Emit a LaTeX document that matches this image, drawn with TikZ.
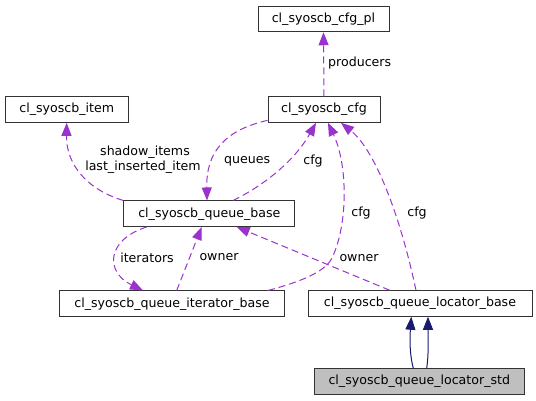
\documentclass[tikz,border=0pt]{standalone}
\usepackage{fontspec}
\setmainfont{DejaVu Sans}
\usetikzlibrary{arrows.meta,calc}
\definecolor{edgepurple}{HTML}{9A32CD}
\definecolor{inhnavy}{HTML}{191970}
\definecolor{boxgray}{HTML}{BFBFBF}
\definecolor{boxborder}{HTML}{333333}
\begin{document}
\begin{tikzpicture}[x=1pt,y=-1pt,
  cls/.style={draw=boxborder, line width=1pt, minimum height=25.5pt, inner sep=0pt, font=\fontsize{12.6}{15}\selectfont, anchor=center},
  lbl/.style={font=\fontsize{12.6}{15}\selectfont, inner sep=0pt, anchor=center},
  usage/.style={draw=edgepurple, line width=1pt, dash pattern=on 7pt off 4pt, -{Triangle[length=13pt,width=10pt]}},
  inh/.style={draw=inhnavy, line width=1pt, -{Triangle[length=13pt,width=10pt]}}]
\useasboundingbox (0,0) rectangle (536,400);
% nodes
\node[cls, minimum width=131pt] (cfgpl) at (323.5,19) {cl\_syoscb\_cfg\_pl};
\node[cls, minimum width=123pt] (item) at (66.7,109.6) {cl\_syoscb\_item};
\node[cls, minimum width=112pt] (cfg) at (324,109.6) {cl\_syoscb\_cfg};
\node[cls, minimum width=171pt] (qbase) at (209.3,213.7) {cl\_syoscb\_queue\_base};
\node[cls, minimum width=225.5pt] (iter) at (172,303.7) {cl\_syoscb\_queue\_iterator\_base};
\node[cls, minimum width=224pt] (loc) at (420,303.5) {cl\_syoscb\_queue\_locator\_base};
\node[cls, minimum width=210.5pt, fill=boxgray] (std) at (419.3,381.5) {cl\_syoscb\_queue\_locator\_std};
% edges
\draw[usage] (cfg.north) -- (cfgpl.south);
\node[lbl, anchor=west] (lprod) at (328,62.7) {producers};

\draw[usage] (qbase.north west) .. controls (88,190) and (66,165) .. (item.south);
\node[lbl] (lshadow) at (145,152) {shadow\_items};
\node[lbl] (llast) at (143,167) {last\_inserted\_item};

\draw[usage] ($(cfg.south west)+(0,-2.5)$) .. controls (225,130) and (206,152) .. ($(qbase.north)+(-2.3,0)$);
\node[lbl, anchor=west] (lqueues) at (224,161) {queues};

\draw[usage] ($(qbase.north)+(23.7,0)$) .. controls (265,185) and (295,160) .. ($(cfg.south)+(-8,0)$);
\node[lbl] (lcfg1) at (313,161) {cfg};

\draw[usage] ($(iter.north)+(96,0)$) .. controls (300,282) and (325,272) .. (332,258) .. controls (348,225) and (348,165) .. ($(cfg.south)+(4,0)$);
\node[lbl] (lcfg2) at (361,212.7) {cfg};

\draw[usage] ($(loc.north)+(-4,0)$) .. controls (400,215) and (375,150) .. ($(cfg.south)+(17,0)$);
\node[lbl] (lcfg3) at (417,212.7) {cfg};

\draw[usage] ($(iter.north)+(4.7,0)$) -- ($(qbase.south)+(-7.6,0)$);
\node[lbl] (lowner1) at (219,257.5) {owner};

\draw[usage] ($(qbase.south)+(-62.6,0)$) .. controls (106,240) and (105,272) .. ($(iter.north)+(-29,0)$);
\node[lbl] (literators) at (147,257.3) {iterators};

\draw[usage] ($(loc.north)+(-30.3,0)$) -- ($(qbase.south)+(27.4,0)$);
\node[lbl] (lowner2) at (359,257.7) {owner};

\draw[inh] ($(std.north)+(-6,0)$) .. controls (409,352) and (410,335) .. ($(loc.south)+(-8.7,0)$);
\draw[inh] ($(std.north)+(7.4,0)$) .. controls (429,352) and (428,335) .. ($(loc.south)+(8,0)$);
\end{tikzpicture}
\end{document}
